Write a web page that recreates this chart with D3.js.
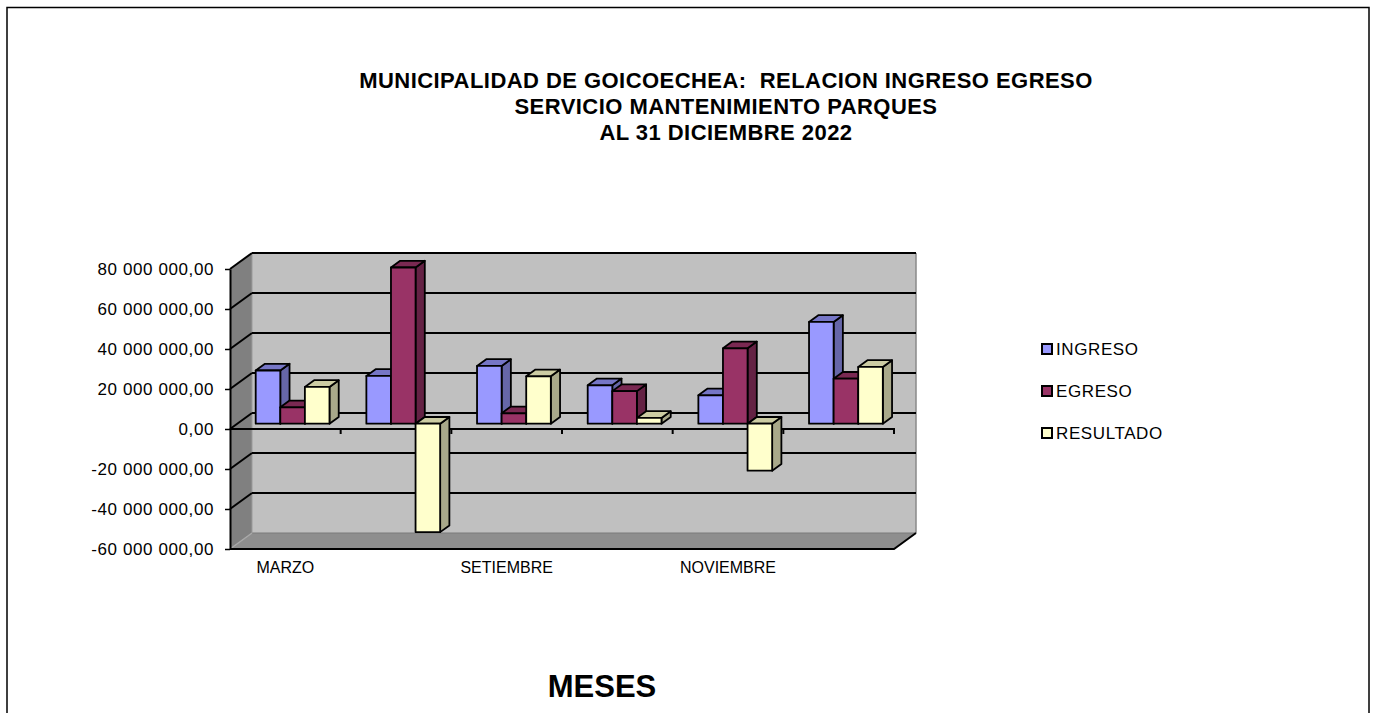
<!DOCTYPE html>
<html>
<head>
<meta charset="utf-8">
<script src="https://cdn.jsdelivr.net/npm/d3@7"></script>
<style>
  html, body { margin: 0; padding: 0; background: #fff; }
  svg { display: block; }
  text { font-family: "Liberation Sans", Arial, sans-serif; white-space: pre; }
</style>
</head>
<body>
<svg id="chart" width="1376" height="713"></svg>
<script>
// ---- data ----
const categories = ["MARZO", "JUNIO", "SETIEMBRE", "OCTUBRE", "NOVIEMBRE", "DICIEMBRE"];
const shownCategoryLabels = ["MARZO", "SETIEMBRE", "NOVIEMBRE"];
const seriesNames = ["INGRESO", "EGRESO", "RESULTADO"];
const ingreso   = [26600000, 23900000, 28900000, 19200000, 14200000, 50900000];
const egreso    = [ 8200000, 78100000,  5200000, 16300000, 37700000, 22500000];
const resultado = [18400000,-54200000, 23700000,  2900000,-23500000, 28400000];
const yTicks = [-60000000, -40000000, -20000000, 0, 20000000, 40000000, 60000000, 80000000];
const titleLines = ["MUNICIPALIDAD DE GOICOECHEA:  RELACION INGRESO EGRESO",
                    "SERVICIO MANTENIMIENTO PARQUES",
                    "AL 31 DICIEMBRE 2022"];
const xAxisTitle = "MESES";

// ---- styling ----
const seriesValues = [ingreso, egreso, resultado];
const colors = {
  INGRESO:   {front: "#9999FF", top: "#7676C6", side: "#6666A8"},
  EGRESO:    {front: "#993366", top: "#7A2952", side: "#642244"},
  RESULTADO: {front: "#FFFFCC", top: "#CCCCA3", side: "#A9A98A"}
};

const svg = d3.select("#chart");

// plot geometry (front plane)
const pLeft = 230, pRight = 894, pTop = 269, pBottom = 549;
const depth = [22, -16];          // full depth of the 3D box
const barFront = 0.33, barBack = 0.75; // bar position inside depth

const x = d3.scaleBand().domain(categories).range([pLeft, pRight]).padding(0);
const bw = x.bandwidth();
const gap = bw * 1.5 / 4.5;
const xs = d3.scaleBand().domain(seriesNames).range([gap / 2, bw - gap / 2]).padding(0);
const y = d3.scaleLinear().domain([-60000000, 80000000]).range([pBottom, pTop]);

const dx = depth[0], dy = depth[1];
const pts = arr => arr.map(p => p.join(",")).join(" ");

// outer frame
svg.append("rect").attr("x", 7).attr("y", 7.5).attr("width", 1362).attr("height", 720)
  .attr("fill", "none").attr("stroke", "#000").attr("stroke-width", 1.5);

// titles
svg.append("g").selectAll("text").data(titleLines).join("text")
  .attr("x", 726).attr("y", (d, i) => [88, 114, 140][i])
  .attr("text-anchor", "middle").attr("font-weight", "bold").attr("font-size", 22)
  .attr("letter-spacing", 0.45).attr("xml:space", "preserve")
  .attr("fill", "#000").text(d => d);

const walls = svg.append("g");
// back wall
walls.append("rect").attr("x", pLeft + dx).attr("y", pTop + dy)
  .attr("width", pRight - pLeft).attr("height", pBottom - pTop).attr("fill", "#C0C0C0");
// floor
walls.append("polygon").attr("points", pts([
  [pLeft, pBottom], [pRight, pBottom], [pRight + dx, pBottom + dy], [pLeft + dx, pBottom + dy]
])).attr("fill", "#8E8E8E");
// left wall
walls.append("polygon").attr("points", pts([
  [pLeft, pTop], [pLeft + dx, pTop + dy], [pLeft + dx, pBottom + dy], [pLeft, pBottom]
])).attr("fill", "#808080");

// back wall right edge (gray)
walls.append("line").attr("x1", pRight + dx).attr("x2", pRight + dx)
  .attr("y1", pTop + dy).attr("y2", pBottom + dy).attr("stroke", "#8a8a8a").attr("stroke-width", 1.5);
// floor/wall junctions (lighter)
walls.append("line").attr("x1", pLeft + dx).attr("x2", pRight + dx)
  .attr("y1", pBottom + dy).attr("y2", pBottom + dy).attr("stroke", "#7a7a7a").attr("stroke-width", 1);
walls.append("line").attr("x1", pLeft).attr("y1", pBottom).attr("x2", pLeft + dx).attr("y2", pBottom + dy)
  .attr("stroke", "#a8a8a8").attr("stroke-width", 1.5);
walls.append("line").attr("x1", pLeft + dx).attr("y1", pTop + dy).attr("x2", pLeft + dx).attr("y2", pBottom + dy)
  .attr("stroke", "#9a9a9a").attr("stroke-width", 1);

// gridlines on back wall and left wall
const grid = svg.append("g").attr("stroke", "#000").attr("stroke-width", 2);
const gridTicks = yTicks.filter(t => t > -60000000);
grid.selectAll("line.back").data(gridTicks).join("line")
  .attr("class", "back")
  .attr("x1", pLeft + dx).attr("x2", pRight + dx)
  .attr("y1", d => y(d) + dy).attr("y2", d => y(d) + dy);
grid.selectAll("line.side").data(gridTicks).join("line")
  .attr("class", "side")
  .attr("x1", pLeft).attr("x2", pLeft + dx)
  .attr("y1", d => y(d)).attr("y2", d => y(d) + dy);

// floor front and right edges
svg.append("polyline").attr("points", pts([[pLeft, pBottom], [pRight, pBottom], [pRight + dx, pBottom + dy]]))
  .attr("fill", "none").attr("stroke", "#000").attr("stroke-width", 2);

// category axis line at zero with ticks at band boundaries
const zeroY = y(0);
const catAxis = svg.append("g").attr("stroke", "#000").attr("stroke-width", 2);
catAxis.append("line").attr("x1", pLeft).attr("x2", pRight + 1).attr("y1", zeroY).attr("y2", zeroY);
catAxis.selectAll("line.tick").data(categories).join("line").attr("class", "tick")
  .attr("x1", d => x(d) + bw).attr("x2", d => x(d) + bw)
  .attr("y1", zeroY).attr("y2", zeroY + 5);

// bars
const fx = dx * barFront, fy = dy * barFront;
const bdx = dx * (barBack - barFront), bdy = dy * (barBack - barFront);
const bars = svg.append("g").attr("stroke", "#000").attr("stroke-width", 1.8).attr("stroke-linejoin", "round");
categories.forEach((c, ci) => {
  seriesNames.forEach((s, si) => {
    const v = seriesValues[si][ci];
    const x0 = x(c) + xs(s) + fx, x1 = x0 + xs.bandwidth();
    const yTop = y(Math.max(v, 0)) + fy, yBot = y(Math.min(v, 0)) + fy;
    const col = colors[s];
    const g = bars.append("g");
    g.append("polygon").attr("points", pts([[x1, yTop], [x1 + bdx, yTop + bdy], [x1 + bdx, yBot + bdy], [x1, yBot]]))
      .attr("fill", col.side);
    g.append("polygon").attr("points", pts([[x0, yTop], [x0 + bdx, yTop + bdy], [x1 + bdx, yTop + bdy], [x1, yTop]]))
      .attr("fill", col.top);
    g.append("rect").attr("x", x0).attr("y", yTop).attr("width", x1 - x0).attr("height", Math.max(yBot - yTop, 0.5))
      .attr("fill", col.front);
  });
});

// y axis
const loc = d3.formatLocale({decimal: ",", thousands: " ", grouping: [3], currency: ["", ""], minus: "-"});
const fmt = loc.format(",.2f");
const yAxis = svg.append("g").attr("transform", `translate(${pLeft},0)`)
  .call(d3.axisLeft(y).tickValues(yTicks).tickFormat(fmt).tickSize(5).tickSizeOuter(0).tickPadding(11));
yAxis.select(".domain").attr("stroke", "#000").attr("stroke-width", 2);
yAxis.selectAll(".tick line").attr("stroke", "#000").attr("stroke-width", 1.5);
yAxis.selectAll(".tick text").attr("font-size", 17).attr("fill", "#000").attr("letter-spacing", 0.6)
  .attr("font-family", "'Liberation Sans', Arial, sans-serif").attr("dy", "0.35em");

// category labels (every other)
svg.append("g").selectAll("text").data(shownCategoryLabels).join("text")
  .attr("x", d => x(d) + bw / 2).attr("y", 573)
  .attr("text-anchor", "middle").attr("font-size", 16).attr("fill", "#000").text(d => d);

// axis title
svg.append("text").attr("x", 602).attr("y", 697).attr("text-anchor", "middle")
  .attr("font-weight", "bold").attr("font-size", 31).attr("fill", "#000").text(xAxisTitle);

// legend
const lg = svg.append("g").attr("transform", "translate(1042,0)");
const lrow = lg.selectAll("g").data(seriesNames).join("g")
  .attr("transform", (d, i) => `translate(0,${349 + i * 42})`);
lrow.append("rect").attr("x", 0).attr("y", -5).attr("width", 10).attr("height", 10)
  .attr("fill", d => colors[d].front).attr("stroke", "#000").attr("stroke-width", 2);
lrow.append("text").attr("x", 14).attr("y", 6).attr("font-size", 17).attr("letter-spacing", 0.6)
  .attr("fill", "#000").text(d => d);
</script>
</body>
</html>
